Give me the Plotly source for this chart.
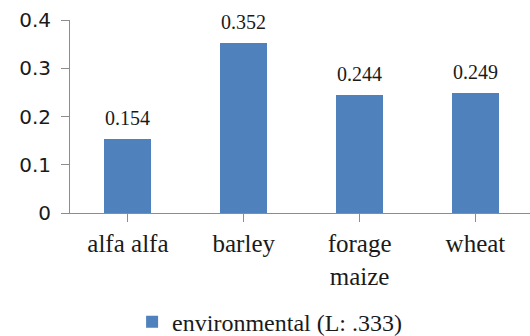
import plotly.graph_objects as go

# Crop categories and environmental scores
crops = ["alfa alfa", "barley", "forage<br>maize", "wheat"]
scores = [0.154, 0.352, 0.244, 0.249]
score_labels = ["0.154", "0.352", "0.244", "0.249"]
series_name = "environmental (L: .333)"
y_ticks = [0, 0.1, 0.2, 0.3, 0.4]
y_tick_text = ["0", "0.1", "0.2", "0.3", "0.4"]

bar_color = "#4F81BD"
axis_color = "#8C8C8C"
serif = "Liberation Serif"

fig = go.Figure()
fig.add_trace(go.Bar(
    x=list(range(len(crops))),
    y=scores,
    name=series_name,
    marker=dict(color=bar_color, line=dict(width=0)),
    width=0.405,
    showlegend=True,
))

# Value labels above each bar
for i, (v, t) in enumerate(zip(scores, score_labels)):
    fig.add_annotation(
        x=i, y=v, text=t, showarrow=False,
        yanchor="middle", yshift=21,
        font=dict(family=serif, size=20, color="#1a1a1a"),
    )

fig.update_layout(
    width=530, height=336,
    margin=dict(l=70, r=0, t=20, b=123, autoexpand=False),
    plot_bgcolor="white", paper_bgcolor="white",
    bargap=0,
    showlegend=True,
    legend=dict(
        orientation="h",
        x=0.135, xanchor="left",
        y=-0.565, yanchor="middle",
        font=dict(family=serif, size=24, color="#1a1a1a"),
        bgcolor="rgba(0,0,0,0)",
    ),
)

fig.update_xaxes(
    range=[-0.5, 3.471],
    tickmode="array",
    tickvals=list(range(len(crops))),
    ticktext=crops,
    tickson="boundaries",
    ticks="outside", ticklen=8, tickcolor=axis_color, tickwidth=1,
    showline=True, linecolor=axis_color, linewidth=1,
    showgrid=False, zeroline=False,
    tickfont=dict(family=serif, size=25, color="#1a1a1a"),
    fixedrange=True,
)

fig.update_yaxes(
    range=[0, 0.4],
    tickmode="array",
    tickvals=y_ticks,
    ticktext=y_tick_text,
    ticks="outside", ticklen=8, tickcolor=axis_color, tickwidth=1,
    ticklabelstandoff=6,
    showline=True, linecolor=axis_color, linewidth=1,
    showgrid=False, zeroline=False,
    tickfont=dict(family="DejaVu Sans", size=20, color="#1a1a1a"),
    fixedrange=True,
)

fig.write_html("out.html")
